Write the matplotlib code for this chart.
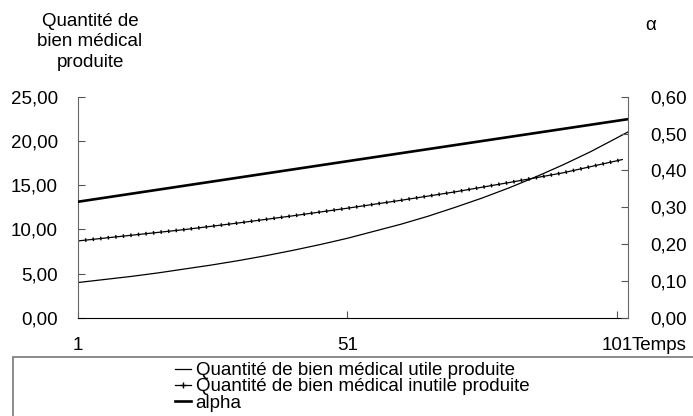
import matplotlib.pyplot as plt
from matplotlib.lines import Line2D
from matplotlib.patches import Rectangle

plt.rcParams['font.family'] = ['Liberation Sans', 'DejaVu Sans']

# periods (time axis)
temps = [1, 6, 11, 16, 21, 26, 31, 36, 41, 46, 51, 56, 61, 66, 71, 76, 81, 86, 91, 96, 101, 103]
temps_inutile = [1, 11, 21, 31, 41, 51, 61, 71, 81, 91, 102]
temps_alpha = [1, 51, 103]

# quantite de bien medical utile produite (left axis)
utile = [4.0, 4.35, 4.7, 5.1, 5.55, 6.0, 6.5, 7.05, 7.65, 8.3, 9.0, 9.8, 10.6, 11.5,
         12.5, 13.55, 14.7, 15.95, 17.3, 18.75, 20.35, 21.0]
# quantite de bien medical inutile produite (left axis)
inutile = [8.7, 9.35, 10.0, 10.75, 11.55, 12.4, 13.3, 14.25, 15.3, 16.4, 17.9]
# alpha (right axis)
alpha = [0.315, 0.425, 0.539]

xticks = [1, 51, 101]
xlabels = ['1', '51', '101']
yticks_left = [0, 5, 10, 15, 20, 25]
yticks_right = [0.0, 0.1, 0.2, 0.3, 0.4, 0.5, 0.6]

fs = 13.5
W, H = 693, 416
fig = plt.figure(figsize=(W / 100, H / 100), dpi=100)
ax = fig.add_axes([77.5 / W, 1 - 318 / H, (627.7 - 77.5) / W, (318 - 96.7) / H])
ax2 = ax.twinx()

ax.plot(temps, utile, color='black', lw=0.9)
ax.plot(temps_inutile, inutile, color='black', lw=0.9)
# little marks along the "inutile" series
ax.plot(temps_inutile, inutile, color='black', lw=2.6, ls=(0, (0.4, 1.7)))
ax2.plot(temps_alpha, alpha, color='black', lw=1.9)

ax.set_xlim(1, 103)
ax.set_ylim(0, 25)
ax2.set_ylim(0, 0.6)
ax.set_xticks(xticks)
ax.set_xticklabels(xlabels, fontsize=fs)
ax.set_yticks(yticks_left)
ax.set_yticklabels([f'{v:.2f}'.replace('.', ',') for v in yticks_left], fontsize=fs)
ax2.set_yticks(yticks_right)
ax2.set_yticklabels([f'{v:.2f}'.replace('.', ',') for v in yticks_right], fontsize=fs)

ax.tick_params(axis='x', direction='in', length=5, pad=14, color='#555555')
ax.tick_params(axis='y', direction='in', length=5, pad=14, color='#555555')
ax2.tick_params(axis='y', direction='in', length=5, pad=16, color='#555555')

for a in (ax, ax2):
    a.spines['top'].set_visible(False)
ax.spines['left'].set_color('#666666')
ax2.spines['right'].set_color('#666666')
ax2.spines['left'].set_visible(False)
ax.spines['right'].set_visible(False)
ax2.spines['bottom'].set_visible(False)
ax.spines['bottom'].set_color('black')

fig.text(90 / W, 1 - 42 / H, 'Quantité de\nbien médical\nproduite', ha='center', va='center',
         fontsize=fs, linespacing=1.3)
fig.text(645 / W, 1 - 25 / H, 'α', ha='left', va='center', fontsize=fs)
fig.text(632 / W, 1 - 346 / H, 'Temps', ha='left', va='center', fontsize=fs)

fig.patches.append(Rectangle((13 / W, -0.05), 1, (1 - 357 / H) + 0.05, transform=fig.transFigure,
                             facecolor='none', edgecolor='#777777', lw=1.2))

handles = [Line2D([], [], color='black', lw=0.9),
           Line2D([], [], color='black', lw=0.9, marker='+', markersize=4),
           Line2D([], [], color='black', lw=1.9)]
labels = ['Quantité de bien médical utile produite',
          'Quantité de bien médical inutile produite',
          'alpha']
fig.legend(handles, labels, loc='upper left', bbox_to_anchor=(175 / W, 1 - 362 / H),
           frameon=False, fontsize=fs, handlelength=0.85, handletextpad=0.25,
           labelspacing=-0.05, borderpad=0, borderaxespad=0)

fig.savefig('out.png', dpi=100)
